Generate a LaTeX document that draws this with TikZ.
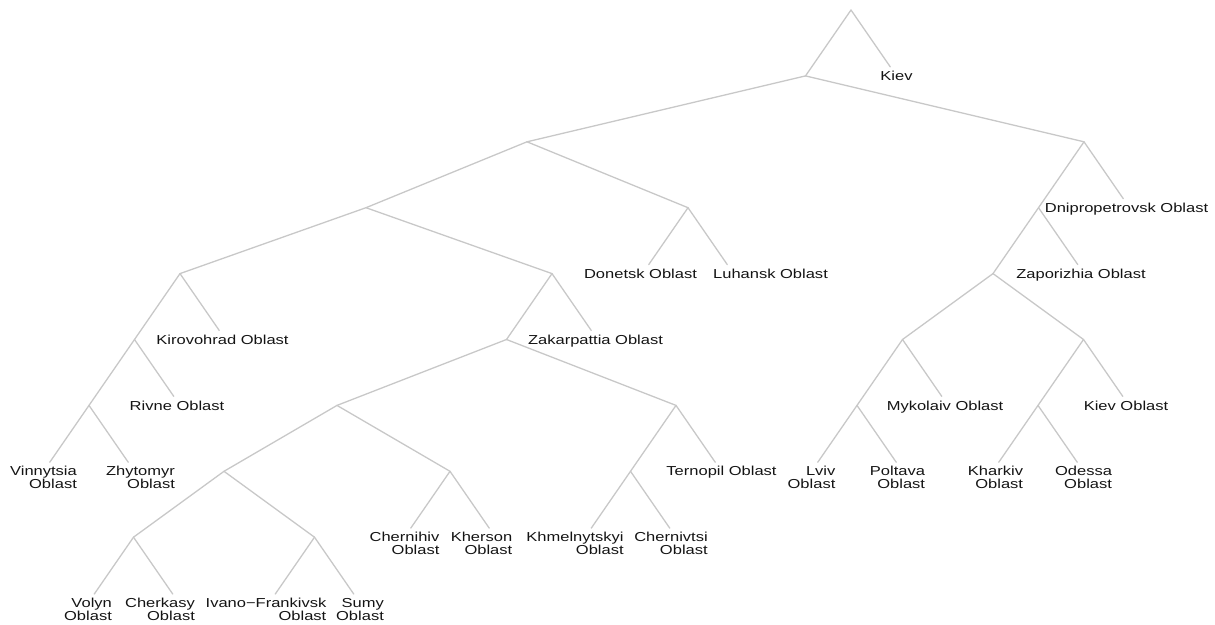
\documentclass[tikz,border=0pt]{standalone}
\usepackage{fontspec}
\setmainfont{Liberation Sans}[FakeStretch=1.27]
\definecolor{linegray}{RGB}{200,200,200}
\definecolor{txtgray}{RGB}{20,20,20}

\begin{document}
\begin{tikzpicture}[x=1pt,y=1pt,
    level/.style={sibling distance=91pt, level distance=65.9pt},
    edge from parent/.style={draw=linegray, line width=1.3pt, line cap=round},
    hub/.style={inner sep=0pt, outer sep=0pt, minimum size=0pt},
    tip/.style={circle, inner sep=0pt, outer sep=0pt, minimum size=22pt},
    lbl/.style={font=\fontsize{13}{13}\selectfont, text=txtgray, inner sep=0pt, anchor=north, yshift=5pt},
    lbl2/.style={lbl, align=right}]
\useasboundingbox (0,0) rectangle (1215,-624);

\node[hub] (r) at (851,-10) {}
  child {node[hub] (n1) {}
    child[sibling distance=557pt] {node[hub] (a) {}
      child[sibling distance=322pt] {node[hub] (a1) {}
        child[sibling distance=372pt] {node[hub] (a1a) {}
          child {node[hub] (q) {}
            child {node[hub] (s) {}
              child {node[tip] (vin) {}}
              child {node[tip] (zhy) {}}}
            child {node[tip] (riv) {}}}
          child {node[tip] (kir) {}}}
        child[sibling distance=372pt] {node[hub] (a1b) {}
          child {node[hub] (n) {}
            child[sibling distance=339pt] {node[hub] (o) {}
              child[sibling distance=226pt] {node[hub] (i) {}
                child[sibling distance=181pt] {node[hub] (j) {}
                  child {node[tip] (vol) {}}
                  child {node[tip] (che) {}}}
                child[sibling distance=181pt] {node[hub] (k) {}
                  child {node[tip] (iva) {}}
                  child {node[tip] (sum) {}}}}
              child[sibling distance=226pt] {node[hub] (l) {}
                child {node[tip] (chg) {}}
                child {node[tip] (khe) {}}}}
            child[sibling distance=339pt] {node[hub] (p) {}
              child {node[hub] (m) {}
                child {node[tip] (khm) {}}
                child {node[tip] (chv) {}}}
              child {node[tip] (ter) {}}}}
          child {node[tip] (zak) {}}}}
      child[sibling distance=322pt] {node[hub] (a2) {}
        child {node[tip] (don) {}}
        child {node[tip] (luh) {}}}}
    child[sibling distance=557pt] {node[hub] (b) {}
      child {node[hub] (c) {}
        child {node[hub] (d) {}
          child[sibling distance=181pt] {node[hub] (e) {}
            child {node[hub] (g) {}
              child {node[tip] (lvi) {}}
              child {node[tip] (pol) {}}}
            child {node[tip] (myk) {}}}
          child[sibling distance=181pt] {node[hub] (f) {}
            child {node[hub] (h) {}
              child {node[tip] (kha) {}}
              child {node[tip] (ode) {}}}
            child {node[tip] (kio) {}}}}
        child {node[tip] (zap) {}}}
      child {node[tip] (dni) {}}}}
  child {node[tip] (kiev) {}};

% leaf names
\node[lbl] (kievl) at (kiev) {Kiev};
\node[lbl, xshift=-2pt] (donl) at (don) {Donetsk Oblast};
\node[lbl, xshift=37pt] (luhl) at (luh) {Luhansk Oblast};
\node[lbl, xshift=-3pt] (kirl) at (kir) {Kirovohrad Oblast};
\node[lbl, xshift=-3pt] (rivl) at (riv) {Rivne Oblast};
\node[lbl, xshift=-2pt] (zakl) at (zak) {Zakarpattia Oblast};
\node[lbl] (terl) at (ter) {Ternopil Oblast};
\node[lbl, xshift=-3pt] (dnil) at (dni) {Dnipropetrovsk Oblast};
\node[lbl, xshift=-3pt] (zapl) at (zap) {Zaporizhia Oblast};
\node[lbl, xshift=-3pt] (mykl) at (myk) {Mykolaiv Oblast};
\node[lbl, xshift=-3pt] (kiol) at (kio) {Kiev Oblast};
\node[lbl2] (vinl) at (vin) {Vinnytsia\\Oblast};
\node[lbl2, xshift=6pt] (zhyl) at (zhy) {Zhytomyr\\Oblast};
\node[lbl2] (voll) at (vol) {Volyn\\Oblast};
\node[lbl2, xshift=-19pt] (chel) at (che) {Cherkasy\\Oblast};
\node[lbl2, xshift=-3pt] (ival) at (iva) {Ivano−Frankivsk\\Oblast};
\node[lbl2] (suml) at (sum) {Sumy\\Oblast};
\node[lbl2] (chgl) at (chg) {Chernihiv\\Oblast};
\node[lbl2, xshift=-14pt] (khel) at (khe) {Kherson\\Oblast};
\node[lbl2, xshift=-10pt] (khml) at (khm) {Khmelnytskyi\\Oblast};
\node[lbl2, xshift=-5pt] (chvl) at (chv) {Chernivtsi\\Oblast};
\node[lbl2] (lvil) at (lvi) {Lviv\\Oblast};
\node[lbl2, xshift=-5pt] (poll) at (pol) {Poltava\\Oblast};
\node[lbl2, xshift=3pt] (khal) at (kha) {Kharkiv\\Oblast};
\node[lbl2] (odel) at (ode) {Odessa\\Oblast};
\end{tikzpicture}
\end{document}
